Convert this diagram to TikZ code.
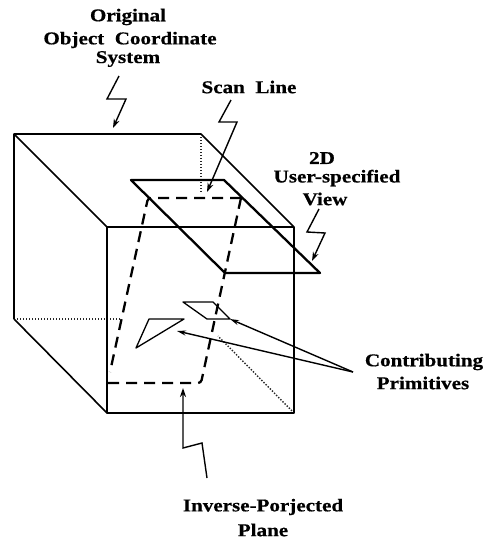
\documentclass[tikz,border=0pt]{standalone}
\usepackage{fontspec}
\setmainfont{Liberation Serif}
\newfontfamily\lblfont[FakeStretch=1.17,FakeBold=0.6]{Liberation Serif Bold}
\usetikzlibrary{arrows.meta}
\tikzset{
  lbl/.style={font=\lblfont\fontsize{18}{18}\selectfont,inner sep=0pt,anchor=center},
  cube/.style={line width=1.6pt,line join=round,black},
  hidden/.style={line width=1.4pt,dash pattern=on 1.4pt off 1.6pt,black!85},
  planeedge/.style={line width=2.3pt,line join=round,black},
  dashline/.style={line width=2.3pt,dash pattern=on 11pt off 7pt,rounded corners=3pt},
  prim/.style={line width=1.3pt,line join=round},
  bolt/.style={line width=1.4pt,line join=miter,-{Stealth[length=9pt,width=6pt]}},
  pointer/.style={line width=1.4pt,-{Stealth[length=9pt,width=5pt]}}
}
\begin{document}
\begin{tikzpicture}[x=1pt,y=-1pt]
\useasboundingbox (0,0) rectangle (485,539);
% cube corners
\coordinate (blt) at (14,134); \coordinate (brt) at (201,134);
\coordinate (flt) at (107,227); \coordinate (frt) at (294,227);
\coordinate (flb) at (107,413); \coordinate (frb) at (294,413);
\coordinate (blb) at (14,319);
\coordinate (hiddenV) at (201,192); \coordinate (hiddenH) at (120,319); \coordinate (hiddenD) at (218,336);
\draw[hidden] (brt) -- (hiddenV);
\draw[hidden] (blb) -- (hiddenH);
\draw[hidden] (frb) -- (hiddenD);
\draw[cube] (blb) -- (blt) -- (brt) -- (frt) -- (frb) -- (flb) -- (flt) -- (frt);
\draw[cube] (blt) -- (flt);
\draw[cube] (blb) -- (flb);
% view plane
\coordinate (v1) at (131,180); \coordinate (v2) at (224,180);
\coordinate (v3) at (320,273); \coordinate (v4) at (225,273);
\draw[planeedge] (v1) -- (v2) -- (v3) -- (v4) -- cycle;
% inverse-projected plane
\coordinate (d1) at (148,198); \coordinate (d2) at (241,198);
\coordinate (d3) at (201,383); \coordinate (d4) at (107,383);
\draw[dashline] (d2) -- (d3) -- (d4);
\draw[dashline] (d2) -- (d1) -- (110,372);
% primitives
\coordinate (p1) at (183,302); \coordinate (p2) at (213,302); \coordinate (p3) at (230,319); \coordinate (p4) at (207,319);
\coordinate (t1) at (149,319); \coordinate (t2) at (184,319); \coordinate (t3) at (136,348);
\draw[prim] (p1) -- (p2) -- (p3) -- (p4) -- cycle;
\draw[prim] (t1) -- (t2) -- (t3) -- cycle;
% labels
\node[lbl] (orig) at (128,17) {Original};
\node[lbl] (obj) at (130,40) {Object\ \ Coordinate};
\node[lbl] (sys) at (128,59) {System};
\node[lbl] (scan) at (249,87) {Scan\ \ Line};
\node[lbl] (twod) at (322,158) {2D};
\node[lbl] (user) at (337,178) {User-specified};
\node[lbl] (view) at (325,199) {View};
\node[lbl] (contr) at (424,362) {Contributing};
\node[lbl] (primi) at (423,383) {Primitives};
\node[lbl] (inv) at (263,507) {Inverse-Porjected};
\node[lbl] (plane) at (263,530) {Plane};
% bolts
\coordinate (b1a) at (119,76); \coordinate (b1t) at (113,128);
\draw[bolt] (b1a) -- (107,99) -- (126,99) -- (b1t);
\coordinate (b2a) at (231,100); \coordinate (b2t) at (207,192);
\draw[bolt] (b2a) -- (219,122) -- (237,122) -- (b2t);
\coordinate (b3a) at (319,209); \coordinate (b3t) at (312,261);
\draw[bolt] (b3a) -- (307,232) -- (325,233) -- (b3t);
\coordinate (b4a) at (207,478); \coordinate (b4t) at (183,388);
\draw[bolt] (b4a) -- (202,443) -- (183,448) -- (b4t);
% pointers
\coordinate (pp) at (353,372);
\coordinate (pa) at (230,319); \coordinate (pb) at (177,331);
\draw[pointer] (pp) -- (pa);
\draw[pointer] (pp) -- (pb);
\end{tikzpicture}
\end{document}
